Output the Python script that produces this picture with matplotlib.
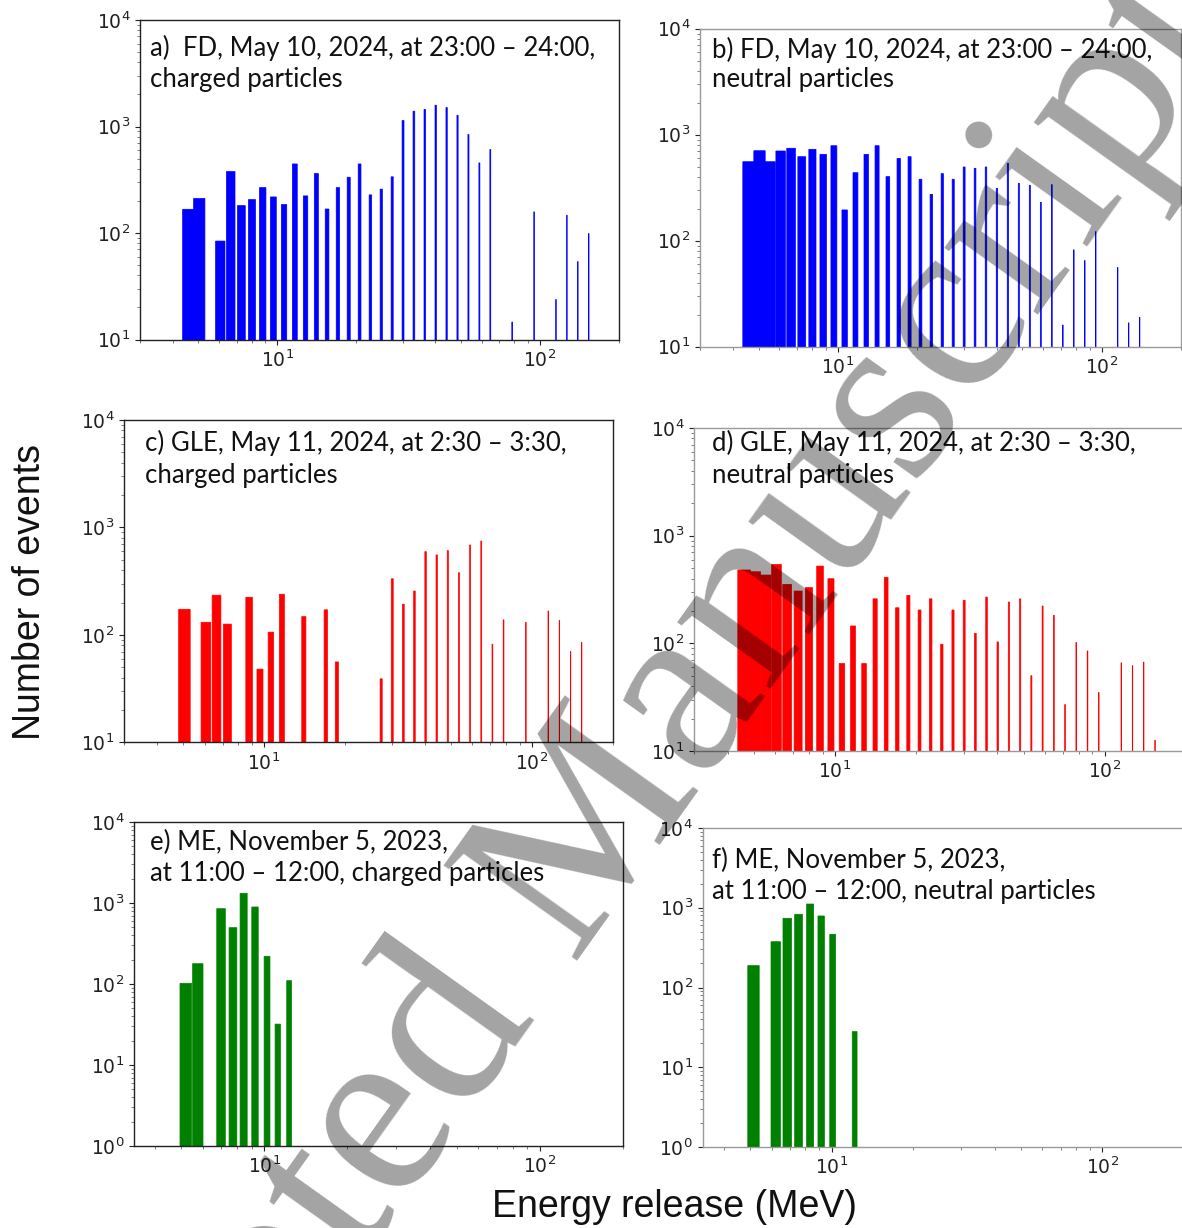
import matplotlib
matplotlib.use("Agg")
import matplotlib.pyplot as plt

W, H = 1182, 1228

# ---------------- data ----------------
# left edges of the energy bins (MeV), shared by panels a-d
bin_left = [4.36, 4.80, 5.29, 5.82, 6.40, 7.05, 7.76, 8.55, 9.41, 10.36,
            11.41, 12.56, 13.83, 15.22, 16.76, 18.45, 20.32, 22.37, 24.63, 27.12,
            29.86, 32.87, 36.19, 39.85, 43.87, 48.30, 53.18, 58.56, 64.47, 70.98,
            78.15, 86.05, 94.74, 104.31, 114.85, 126.45, 139.22, 153.28]

counts_a = [167, 211, 0, 84, 378, 181, 206, 267, 218, 185,
            445, 223, 362, 168, 267, 334, 445, 228, 258, 337,
            1138, 1393, 1445, 1585, 1507, 1276, 841, 455, 608, 0,
            14.6, 0, 158, 0, 23.8, 147, 54, 99]
counts_b = [556, 706, 556, 702, 745, 620, 728, 653, 787, 195,
            438, 653, 787, 402, 598, 620, 380, 274, 429, 380,
            496, 482, 496, 312, 537, 348, 333, 230, 338, 16,
            82, 65, 122, 0, 56, 16.8, 18.9, 0]
counts_c = [0, 173, 0, 131, 234, 126, 0, 224, 48, 106,
            239, 0, 148, 0, 171, 56, 0, 0, 0, 39,
            333, 193, 256, 595, 555, 608, 379, 687, 748, 82,
            138, 0, 131, 0, 167, 136, 70, 85]
counts_d = [480, 462, 431, 541, 353, 306, 329, 522, 398, 65,
            145, 65, 259, 410, 214, 279, 204, 259, 98, 204,
            251, 124, 269, 103, 242, 259, 50, 222, 182, 27,
            102, 85, 35, 0, 66, 62, 67, 12.6]

energy_e = [4.95, 5.50, 6.73, 7.46, 8.18, 9.02, 10.0, 10.96, 12.08]
counts_e = [102, 178, 851, 496, 1318, 893, 220, 32, 110]
energy_f = [4.90, 5.97, 6.61, 7.30, 8.08, 8.90, 9.84, 11.91]
counts_f = [188, 375, 738, 828, 1114, 789, 465, 28]

titles_a = ["a)  FD, May 10, 2024, at 23:00 \u2013 24:00,", "charged particles"]
titles_b = ["b) FD, May 10, 2024, at 23:00 \u2013 24:00,", "neutral particles"]
titles_c = ["c) GLE, May 11, 2024, at 2:30 \u2013 3:30,", "charged particles"]
titles_d = ["d) GLE, May 11, 2024, at 2:30 \u2013 3:30,", "neutral particles"]
titles_e = ["e) ME, November 5, 2023,", "at 11:00 \u2013 12:00, charged particles"]
titles_f = ["f) ME, November 5, 2023,", "at 11:00 \u2013 12:00, neutral particles"]

BAR_WIDTH = 0.5  # MeV

fig = plt.figure(figsize=(W / 100, H / 100), dpi=100)


def add_ax(left, right, top, bottom):
    return fig.add_axes([left / W, 1 - bottom / H, (right - left) / W, (bottom - top) / H])


def fig_text(x, y, s, **kw):
    return fig.text(x / W, 1 - y / H, s, **kw)


panels = [
    ((140, 619, 20, 339.5), (3, 200), (10, 1e4), bin_left, counts_a, "#0000ff", titles_a, 150, 48, 80, "#222222"),
    ((700, 1181, 28.7, 346.7), (3, 200), (10, 1e4), bin_left, counts_b, "#0000ff", titles_b, 712, 50, 80, "#999999"),
    ((124, 612.5, 420, 742.3), (3, 200), (10, 1e4), bin_left, counts_c, "#ff0000", titles_c, 145, 443, 475, "#222222"),
    ((694, 1186, 428, 751), (3, 200), (10, 1e4), bin_left, counts_d, "#ff0000", titles_d, 712, 443, 475, "#999999"),
    ((134, 622.5, 822, 1146), (3.37, 200), (1, 1e4), energy_e, counts_e, "#008000", titles_e, 150, 842, 873, "#222222"),
    ((702.7, 1184, 828, 1147), (3.34, 200), (1, 1e4), energy_f, counts_f, "#008000", titles_f, 712, 860, 892, "#999999"),
]

for box, xlim, ylim, en, cn, col, tt, tx, ty1, ty2, sc in panels:
    ax = add_ax(*box)
    xs = [e for e, c in zip(en, cn) if c > 0]
    ys = [c for c in cn if c > 0]
    ax.bar(xs, ys, width=BAR_WIDTH, align="edge", color=col, edgecolor=col,
           linewidth=0.5, snap=False)
    ax.set_xscale("log")
    ax.set_yscale("log")
    ax.set_xlim(*xlim)
    ax.set_ylim(*ylim)
    for s in ax.spines.values():
        s.set_color(sc)
        s.set_linewidth(1.0)
    ax.tick_params(axis="both", which="major", labelsize=13.5, colors="#222222",
                   length=3.5, width=0.8)
    ax.tick_params(axis="both", which="minor", length=2, width=0.6, colors="#666666")
    fig_text(tx, ty1, tt[0], fontsize=18.5, family="Lato", va="center", ha="left", color="#111111")
    fig_text(tx, ty2, tt[1], fontsize=18.5, family="Lato", va="center", ha="left", color="#111111")

fig_text(30, 592, "Number of events", rotation=90, fontsize=27, family="Liberation Sans",
         ha="center", va="center", color="#111111")
fig_text(674, 1207, "Energy release (MeV)", fontsize=27, family="Liberation Sans",
         ha="center", va="center", color="#111111")

# watermark
fig_text(-14, 1790, "Accepted Manuscript", fontsize=181, family="Liberation Serif",
         rotation=54.5, rotation_mode="anchor", ha="left", va="baseline",
         color="black", alpha=0.36, zorder=100)

fig.savefig("out.png", dpi=100)
